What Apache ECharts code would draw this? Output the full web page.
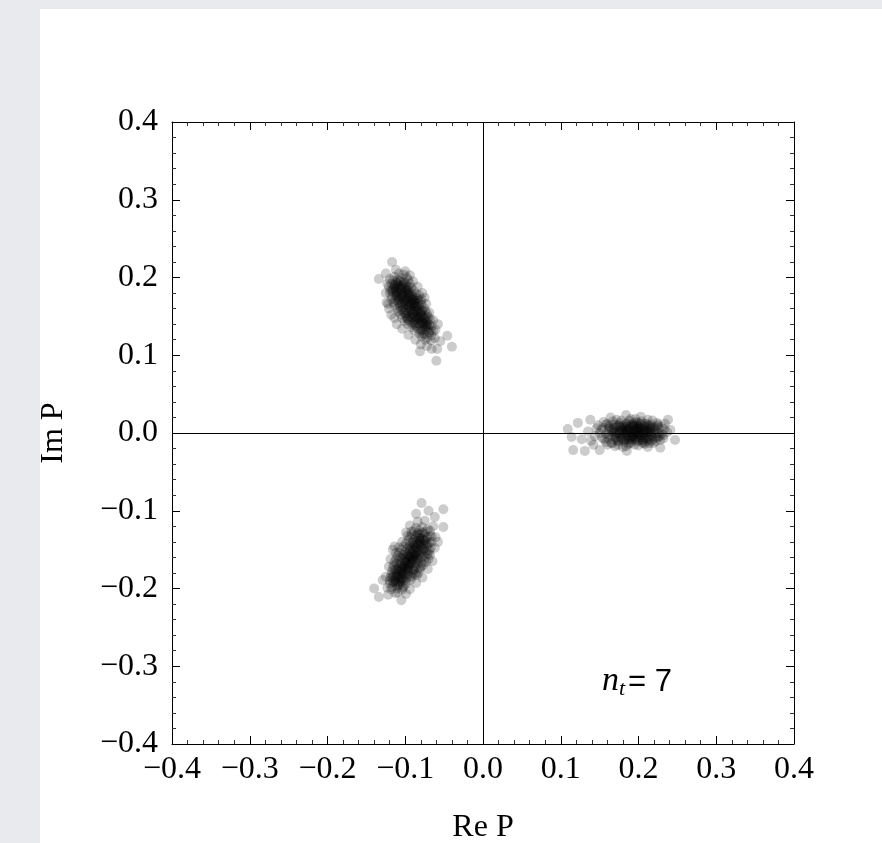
<!DOCTYPE html>
<html>
<head>
<meta charset="utf-8">
<script src="https://cdn.jsdelivr.net/npm/echarts@6/dist/echarts.min.js"></script>
<style>
html,body{margin:0;padding:0;background:#e8eaed;}
#chart{width:882px;height:843px;}
</style>
</head>
<body>
<div id="chart"></div>
<script>
// Axis ticks
const xTicks = [-0.4,-0.3,-0.2,-0.1,0.0,0.1,0.2,0.3,0.4];
const yTicks = [-0.4,-0.3,-0.2,-0.1,0.0,0.1,0.2,0.3,0.4];

// Cluster at upper left (Re P, Im P)
const clusterUpper = [
 [-0.114,0.201],[-0.106,0.199],[-0.098,0.200],
 [-0.118,0.192],[-0.110,0.191],[-0.102,0.193],[-0.094,0.192],
 [-0.119,0.184],[-0.112,0.183],[-0.104,0.185],[-0.097,0.184],[-0.089,0.183],
 [-0.117,0.176],[-0.110,0.175],[-0.103,0.177],[-0.096,0.176],[-0.088,0.175],[-0.082,0.177],
 [-0.115,0.168],[-0.108,0.167],[-0.101,0.169],[-0.094,0.168],[-0.087,0.167],[-0.080,0.169],
 [-0.110,0.160],[-0.103,0.159],[-0.096,0.161],[-0.089,0.160],[-0.082,0.159],[-0.076,0.161],
 [-0.106,0.152],[-0.099,0.151],[-0.092,0.153],[-0.085,0.152],[-0.078,0.151],[-0.072,0.153],
 [-0.101,0.144],[-0.094,0.143],[-0.087,0.145],[-0.080,0.144],[-0.073,0.143],[-0.068,0.146],
 [-0.092,0.136],[-0.085,0.135],[-0.078,0.137],[-0.071,0.136],[-0.066,0.138],
 [-0.082,0.128],[-0.075,0.127],[-0.069,0.129],[-0.064,0.131],
 [-0.074,0.120],[-0.067,0.119],
 [-0.105,0.180],[-0.100,0.172],[-0.095,0.164],[-0.090,0.156],[-0.085,0.148],
 [-0.108,0.188],[-0.098,0.180],[-0.092,0.172],[-0.086,0.162],[-0.080,0.154],
 [-0.112,0.176],[-0.076,0.140],
 [-0.116,0.196],[-0.110,0.197],[-0.102,0.195],[-0.096,0.197],
 [-0.121,0.188],[-0.114,0.187],[-0.106,0.189],[-0.099,0.188],[-0.092,0.187],
 [-0.120,0.180],[-0.114,0.181],[-0.108,0.179],[-0.101,0.181],[-0.093,0.180],[-0.086,0.179],
 [-0.118,0.172],[-0.113,0.171],[-0.106,0.173],[-0.098,0.172],[-0.091,0.171],[-0.084,0.173],[-0.079,0.172],
 [-0.114,0.164],[-0.107,0.163],[-0.100,0.165],[-0.093,0.164],[-0.086,0.163],[-0.079,0.165],
 [-0.109,0.156],[-0.102,0.155],[-0.095,0.157],[-0.088,0.156],[-0.081,0.155],[-0.074,0.157],
 [-0.104,0.148],[-0.097,0.147],[-0.090,0.149],[-0.083,0.148],[-0.076,0.147],[-0.070,0.149],
 [-0.097,0.140],[-0.090,0.139],[-0.083,0.141],[-0.076,0.140],[-0.069,0.139],
 [-0.088,0.132],[-0.081,0.131],[-0.074,0.133],[-0.067,0.132],
 [-0.079,0.124],[-0.072,0.123],[-0.066,0.125],
 [-0.112,0.194],[-0.104,0.190],[-0.117,0.182],[-0.109,0.186],[-0.100,0.186],[-0.095,0.180],
 [-0.111,0.178],[-0.104,0.174],[-0.097,0.169],[-0.090,0.166],[-0.083,0.166],[-0.110,0.170],
 [-0.105,0.166],[-0.099,0.158],[-0.092,0.158],[-0.085,0.157],[-0.078,0.158],[-0.103,0.162],
 [-0.100,0.154],[-0.094,0.150],[-0.087,0.150],[-0.081,0.149],[-0.073,0.150],[-0.096,0.145],
 [-0.089,0.142],[-0.082,0.146],[-0.078,0.142],[-0.072,0.140],[-0.086,0.138],[-0.080,0.133],
 [-0.074,0.136],[-0.070,0.131],[-0.077,0.127],[-0.107,0.195],[-0.115,0.190],[-0.088,0.168],
 [-0.091,0.177],[-0.096,0.188],[-0.106,0.158],[-0.098,0.148],
 [-0.113,0.190],[-0.107,0.183],[-0.101,0.178],[-0.097,0.174],[-0.093,0.168],[-0.089,0.163],
 [-0.084,0.158],[-0.080,0.151],[-0.077,0.145],[-0.073,0.138],[-0.110,0.193],[-0.104,0.187],
 [-0.099,0.183],[-0.095,0.177],[-0.091,0.174],[-0.087,0.170],[-0.083,0.163],[-0.079,0.157],
 [-0.075,0.148],[-0.071,0.143],[-0.116,0.185],[-0.111,0.181],[-0.106,0.176],[-0.102,0.170],
 [-0.098,0.165],[-0.094,0.160],[-0.090,0.153],[-0.086,0.146],[-0.081,0.140],[-0.078,0.132],
 [-0.108,0.172],[-0.103,0.167],[-0.097,0.154],[-0.092,0.148],[-0.088,0.141],[-0.112,0.186],
 [-0.100,0.192],[-0.096,0.184],[-0.089,0.172],[-0.084,0.170],
 [-0.123,0.192],[-0.125,0.180],[-0.121,0.160],[-0.118,0.152],[-0.111,0.140],[-0.104,0.134],
 [-0.096,0.126],[-0.087,0.120],[-0.080,0.114],[-0.062,0.122],[-0.061,0.133],[-0.064,0.145],
 [-0.069,0.155],[-0.073,0.166],[-0.078,0.180],[-0.084,0.188],[-0.090,0.195],[-0.094,0.203],
 [-0.108,0.205],[-0.120,0.198],
 [-0.117,0.220],[-0.134,0.198],[-0.040,0.111],[-0.060,0.093],[-0.081,0.105],
 [-0.046,0.125],[-0.112,0.210],[-0.125,0.205],[-0.055,0.118],[-0.066,0.108],
 [-0.124,0.168],[-0.058,0.140],[-0.100,0.208],[-0.072,0.112],[-0.075,0.174],
 [-0.059,0.108],[-0.122,0.166],[-0.102,0.204],[-0.114,0.148]
];

// Cluster at lower left
const clusterLower = [
 [-0.086,-0.122],[-0.078,-0.121],[-0.071,-0.124],
 [-0.092,-0.131],[-0.084,-0.129],[-0.076,-0.130],[-0.068,-0.132],
 [-0.096,-0.138],[-0.088,-0.137],[-0.081,-0.139],[-0.073,-0.137],[-0.066,-0.140],
 [-0.102,-0.146],[-0.094,-0.145],[-0.087,-0.147],[-0.080,-0.146],[-0.072,-0.145],[-0.067,-0.148],
 [-0.108,-0.154],[-0.100,-0.153],[-0.093,-0.155],[-0.086,-0.154],[-0.079,-0.153],[-0.072,-0.156],
 [-0.112,-0.162],[-0.104,-0.161],[-0.097,-0.163],[-0.090,-0.162],[-0.083,-0.161],[-0.076,-0.164],[-0.070,-0.162],
 [-0.115,-0.170],[-0.108,-0.169],[-0.101,-0.171],[-0.094,-0.170],[-0.087,-0.169],[-0.080,-0.172],
 [-0.117,-0.178],[-0.110,-0.177],[-0.103,-0.179],[-0.096,-0.178],[-0.089,-0.177],[-0.083,-0.180],
 [-0.119,-0.186],[-0.112,-0.185],[-0.105,-0.187],[-0.098,-0.186],[-0.091,-0.185],
 [-0.120,-0.194],[-0.113,-0.193],[-0.106,-0.195],[-0.099,-0.194],
 [-0.118,-0.201],[-0.111,-0.200],[-0.104,-0.202],
 [-0.100,-0.165],[-0.095,-0.158],[-0.090,-0.150],[-0.105,-0.175],[-0.098,-0.168],[-0.092,-0.160],
 [-0.085,-0.143],[-0.108,-0.182],[-0.102,-0.190],[-0.082,-0.135],[-0.096,-0.176],[-0.088,-0.158],
 [-0.089,-0.126],[-0.082,-0.125],[-0.074,-0.127],[-0.068,-0.126],
 [-0.094,-0.134],[-0.087,-0.133],[-0.080,-0.135],[-0.072,-0.134],[-0.066,-0.133],
 [-0.099,-0.142],[-0.091,-0.141],[-0.084,-0.143],[-0.077,-0.142],[-0.069,-0.141],
 [-0.105,-0.150],[-0.097,-0.149],[-0.090,-0.151],[-0.083,-0.150],[-0.076,-0.149],[-0.069,-0.151],
 [-0.110,-0.158],[-0.103,-0.157],[-0.096,-0.159],[-0.089,-0.158],[-0.082,-0.157],[-0.075,-0.159],[-0.068,-0.157],
 [-0.114,-0.166],[-0.107,-0.165],[-0.100,-0.167],[-0.093,-0.166],[-0.086,-0.165],[-0.079,-0.167],[-0.073,-0.166],
 [-0.116,-0.174],[-0.109,-0.173],[-0.102,-0.175],[-0.095,-0.174],[-0.088,-0.173],[-0.081,-0.175],
 [-0.118,-0.182],[-0.111,-0.181],[-0.104,-0.183],[-0.097,-0.182],[-0.090,-0.181],[-0.085,-0.183],
 [-0.120,-0.190],[-0.113,-0.189],[-0.106,-0.191],[-0.099,-0.190],[-0.093,-0.189],
 [-0.117,-0.198],[-0.110,-0.197],[-0.103,-0.199],
 [-0.084,-0.131],[-0.078,-0.128],[-0.090,-0.140],[-0.082,-0.137],[-0.075,-0.139],[-0.095,-0.147],
 [-0.088,-0.144],[-0.079,-0.148],[-0.073,-0.152],[-0.101,-0.157],[-0.094,-0.152],[-0.086,-0.156],
 [-0.079,-0.160],[-0.107,-0.160],[-0.099,-0.160],[-0.091,-0.165],[-0.084,-0.168],[-0.077,-0.170],
 [-0.111,-0.168],[-0.104,-0.172],[-0.097,-0.173],[-0.090,-0.176],[-0.113,-0.176],[-0.106,-0.179],
 [-0.100,-0.182],[-0.093,-0.184],[-0.115,-0.184],[-0.109,-0.188],[-0.103,-0.186],[-0.116,-0.192],
 [-0.109,-0.195],[-0.102,-0.197],[-0.087,-0.181],[-0.083,-0.174],[-0.071,-0.143],[-0.070,-0.155],
 [-0.097,-0.132],[-0.092,-0.127],[-0.108,-0.147],[-0.112,-0.154],
 [-0.115,-0.190],[-0.110,-0.184],[-0.106,-0.177],[-0.102,-0.172],[-0.098,-0.166],[-0.094,-0.160],
 [-0.090,-0.155],[-0.086,-0.148],[-0.082,-0.142],[-0.078,-0.136],[-0.112,-0.192],[-0.107,-0.186],
 [-0.103,-0.181],[-0.099,-0.175],[-0.095,-0.169],[-0.091,-0.163],[-0.087,-0.157],[-0.083,-0.152],
 [-0.080,-0.144],[-0.076,-0.138],[-0.117,-0.186],[-0.113,-0.180],[-0.109,-0.175],[-0.105,-0.168],
 [-0.101,-0.163],[-0.097,-0.156],[-0.093,-0.149],[-0.089,-0.145],[-0.085,-0.139],[-0.081,-0.131],
 [-0.108,-0.192],[-0.104,-0.188],[-0.100,-0.178],[-0.096,-0.171],[-0.092,-0.168],[-0.088,-0.163],
 [-0.084,-0.162],[-0.080,-0.155],[-0.077,-0.150],[-0.074,-0.143],
 [-0.123,-0.199],[-0.125,-0.185],[-0.121,-0.172],[-0.119,-0.162],[-0.114,-0.146],[-0.104,-0.140],
 [-0.099,-0.128],[-0.094,-0.119],[-0.084,-0.114],[-0.075,-0.113],[-0.064,-0.120],[-0.061,-0.134],
 [-0.062,-0.148],[-0.065,-0.165],[-0.071,-0.175],[-0.078,-0.186],[-0.086,-0.193],[-0.094,-0.201],
 [-0.099,-0.207],[-0.113,-0.206],
 [-0.079,-0.090],[-0.051,-0.098],[-0.086,-0.104],[-0.051,-0.121],[-0.134,-0.211],
 [-0.105,-0.215],[-0.129,-0.189],[-0.116,-0.150],[-0.062,-0.108],[-0.070,-0.100],
 [-0.122,-0.208],[-0.140,-0.200],[-0.058,-0.140],[-0.110,-0.205]
];

// Cluster on the positive real axis
const clusterRight = [
 [0.109,0.005],[0.116,-0.022],[0.238,0.017],[0.247,-0.009],[0.131,-0.023],
 [0.185,-0.023],[0.184,0.023],[0.122,0.013],[0.127,-0.008],[0.114,-0.005],
 [0.138,0.017],[0.142,-0.015],[0.241,0.004],[0.228,-0.019],[0.203,0.021],
 [0.164,0.020],[0.150,-0.022],
 [0.152,0.004],[0.156,-0.008],[0.158,0.011],[0.161,-0.002],[0.163,0.007],[0.165,-0.013],
 [0.167,0.015],[0.169,0.002],[0.171,-0.006],[0.172,0.010],[0.174,-0.015],[0.175,0.004],
 [0.177,-0.002],[0.178,0.016],[0.180,0.008],[0.181,-0.010],[0.183,0.001],[0.184,-0.017],
 [0.185,0.012],[0.187,-0.004],[0.188,0.005],[0.189,-0.012],[0.190,0.018],[0.191,0.000],
 [0.192,-0.007],[0.193,0.009],[0.195,-0.015],[0.196,0.003],[0.197,0.014],[0.198,-0.004],
 [0.200,0.007],[0.201,-0.010],[0.202,0.001],[0.204,0.015],[0.205,-0.006],[0.207,0.009],
 [0.208,-0.014],[0.210,0.002],[0.211,0.012],[0.213,-0.008],[0.214,0.005],[0.216,-0.002],
 [0.218,0.016],[0.219,-0.013],[0.221,0.007],[0.223,-0.005],[0.225,0.011],[0.226,0.000],
 [0.228,-0.009],[0.230,0.008],[0.232,-0.003],[0.234,0.012],
 [0.170,0.000],[0.176,0.008],[0.179,-0.006],[0.182,0.006],[0.186,-0.001],[0.188,0.010],
 [0.190,-0.005],[0.194,0.004],[0.196,-0.009],[0.199,0.002],[0.203,-0.003],[0.206,0.004],
 [0.209,-0.002],[0.212,0.000],[0.180,0.002],[0.185,0.004],[0.193,-0.002],[0.198,0.010],
 [0.203,0.009],[0.215,0.008],[0.217,-0.010],[0.173,-0.010],[0.166,0.004],[0.160,-0.015],
 [0.155,0.014],[0.146,0.006],[0.144,-0.004],[0.148,0.010],[0.135,0.002],[0.139,-0.010],
 [0.160,0.012],[0.168,0.011],[0.176,0.013],[0.184,0.012],[0.192,0.011],[0.200,0.013],
 [0.208,0.012],[0.216,0.011],[0.224,0.013],
 [0.154,0.006],[0.162,0.005],[0.170,0.007],[0.178,0.006],[0.186,0.005],[0.194,0.007],
 [0.202,0.006],[0.210,0.005],[0.218,0.007],[0.226,0.006],[0.233,0.005],
 [0.150,0.000],[0.158,-0.001],[0.166,0.001],[0.174,0.000],[0.182,-0.001],[0.190,0.001],
 [0.198,0.000],[0.206,-0.001],[0.214,0.001],[0.222,0.000],[0.230,-0.001],[0.237,0.001],
 [0.153,-0.006],[0.161,-0.007],[0.169,-0.005],[0.177,-0.006],[0.185,-0.007],[0.193,-0.005],
 [0.201,-0.006],[0.209,-0.007],[0.217,-0.005],[0.225,-0.006],[0.232,-0.007],
 [0.158,-0.012],[0.166,-0.013],[0.174,-0.011],[0.182,-0.012],[0.190,-0.013],[0.198,-0.011],
 [0.206,-0.012],[0.214,-0.013],[0.222,-0.011],
 [0.172,0.017],[0.188,0.016],[0.196,0.018],[0.212,0.017],
 [0.170,-0.017],[0.180,-0.018],[0.200,-0.016],[0.212,-0.018],
 [0.178,0.003],[0.186,0.008],[0.194,-0.003],[0.202,0.003],[0.210,0.008],[0.188,-0.008],
 [0.206,-0.009],[0.198,0.006],[0.182,-0.004],[0.214,-0.004],
 [0.162,0.009],[0.170,-0.009],[0.176,0.001],[0.181,0.010],[0.184,-0.009],[0.187,0.002],
 [0.191,-0.009],[0.193,0.013],[0.195,0.001],[0.197,-0.007],[0.199,0.009],[0.201,-0.002],
 [0.204,0.006],[0.206,-0.013],[0.208,0.003],[0.211,-0.005],[0.213,0.010],[0.216,0.002],
 [0.219,-0.008],[0.221,0.004],[0.165,-0.004],[0.168,0.006],[0.172,-0.002],[0.175,0.010],
 [0.178,-0.008],[0.183,0.004],[0.189,0.007],[0.192,-0.004],[0.197,0.005],[0.200,-0.004],
 [0.203,0.012],[0.207,0.000],[0.211,-0.010],[0.215,0.005],[0.220,0.000],[0.224,0.009],
 [0.227,-0.004],[0.187,-0.014],[0.194,0.010],[0.205,-0.009]
];

const xName = 'Re P';
const yName = 'Im P';

const chart = echarts.init(document.getElementById('chart'), null, {renderer:'canvas'});
const serif = '"Liberation Serif","Times New Roman",serif';
const sans = '"Liberation Sans",Arial,sans-serif';
const fmt = v => { const s = Math.abs(v).toFixed(1); return (v < -1e-9 ? '\u2212' : '') + s; };

function axisCommon(showLabel){
  return {
    type:'value', min:-0.4, max:0.4, interval:0.1,
    axisLine:{show:true, onZero:false, lineStyle:{color:'#000', width:1}},
    axisTick:{show:true, inside:true, length:8, lineStyle:{color:'#000', width:1}},
    minorTick:{show:true, splitNumber:5, length:4, lineStyle:{color:'#333', width:1}},
    splitLine:{show:false},
    axisLabel:{show:showLabel, formatter:fmt, fontFamily:serif, fontSize:32, color:'#000'}
  };
}

const pointStyle = {color:'rgba(0,0,0,0.25)'};

chart.setOption({
  animation:false,
  backgroundColor:'transparent',
  graphic:[
    {type:'rect', z:-10, shape:{x:40, y:9, width:842, height:834}, style:{fill:'#fff'}},
    {type:'text', x:602, y:681, z:10, style:{text:'n', font:'italic 34px ' + serif, fill:'#000', verticalAlign:'middle', align:'left'}},
    {type:'text', x:619, y:689, z:10, style:{text:'t', font:'italic 22px ' + serif, fill:'#000', verticalAlign:'middle', align:'left'}},
    {type:'text', x:628, y:682, z:10, style:{text:'= 7', font:'31px ' + sans, fill:'#000', verticalAlign:'middle', align:'left'}}
  ],
  grid:{left:172, right:88, top:122, bottom:99, containLabel:false, outerBoundsMode:'none'},
  xAxis:[
    Object.assign(axisCommon(true), {position:'bottom', name:xName, nameLocation:'middle', nameGap:68,
      nameTextStyle:{fontFamily:serif, fontSize:32, color:'#000'},
      axisLabel:{show:true, formatter:fmt, fontFamily:serif, fontSize:32, color:'#000', margin:10}}),
    Object.assign(axisCommon(false), {position:'top'})
  ],
  yAxis:[
    Object.assign(axisCommon(true), {position:'left', name:yName, nameLocation:'middle', nameGap:102,
      nameTextStyle:{fontFamily:serif, fontSize:32, color:'#000'},
      axisLabel:{show:true, formatter:fmt, fontFamily:serif, fontSize:32, color:'#000', margin:14}}),
    Object.assign(axisCommon(false), {position:'right'})
  ],
  series:[
    {type:'scatter', xAxisIndex:0, yAxisIndex:0, data:clusterUpper, symbolSize:10, itemStyle:pointStyle, z:3,
     markLine:{silent:true, symbol:'none', label:{show:false}, lineStyle:{color:'#000', width:1, type:'solid'},
       data:[{xAxis:0},{yAxis:0}]}},
    {type:'scatter', xAxisIndex:0, yAxisIndex:0, data:clusterLower, symbolSize:10, itemStyle:pointStyle, z:3},
    {type:'scatter', xAxisIndex:0, yAxisIndex:0, data:clusterRight, symbolSize:10, itemStyle:pointStyle, z:3}
  ]
});
</script>
</body>
</html>
